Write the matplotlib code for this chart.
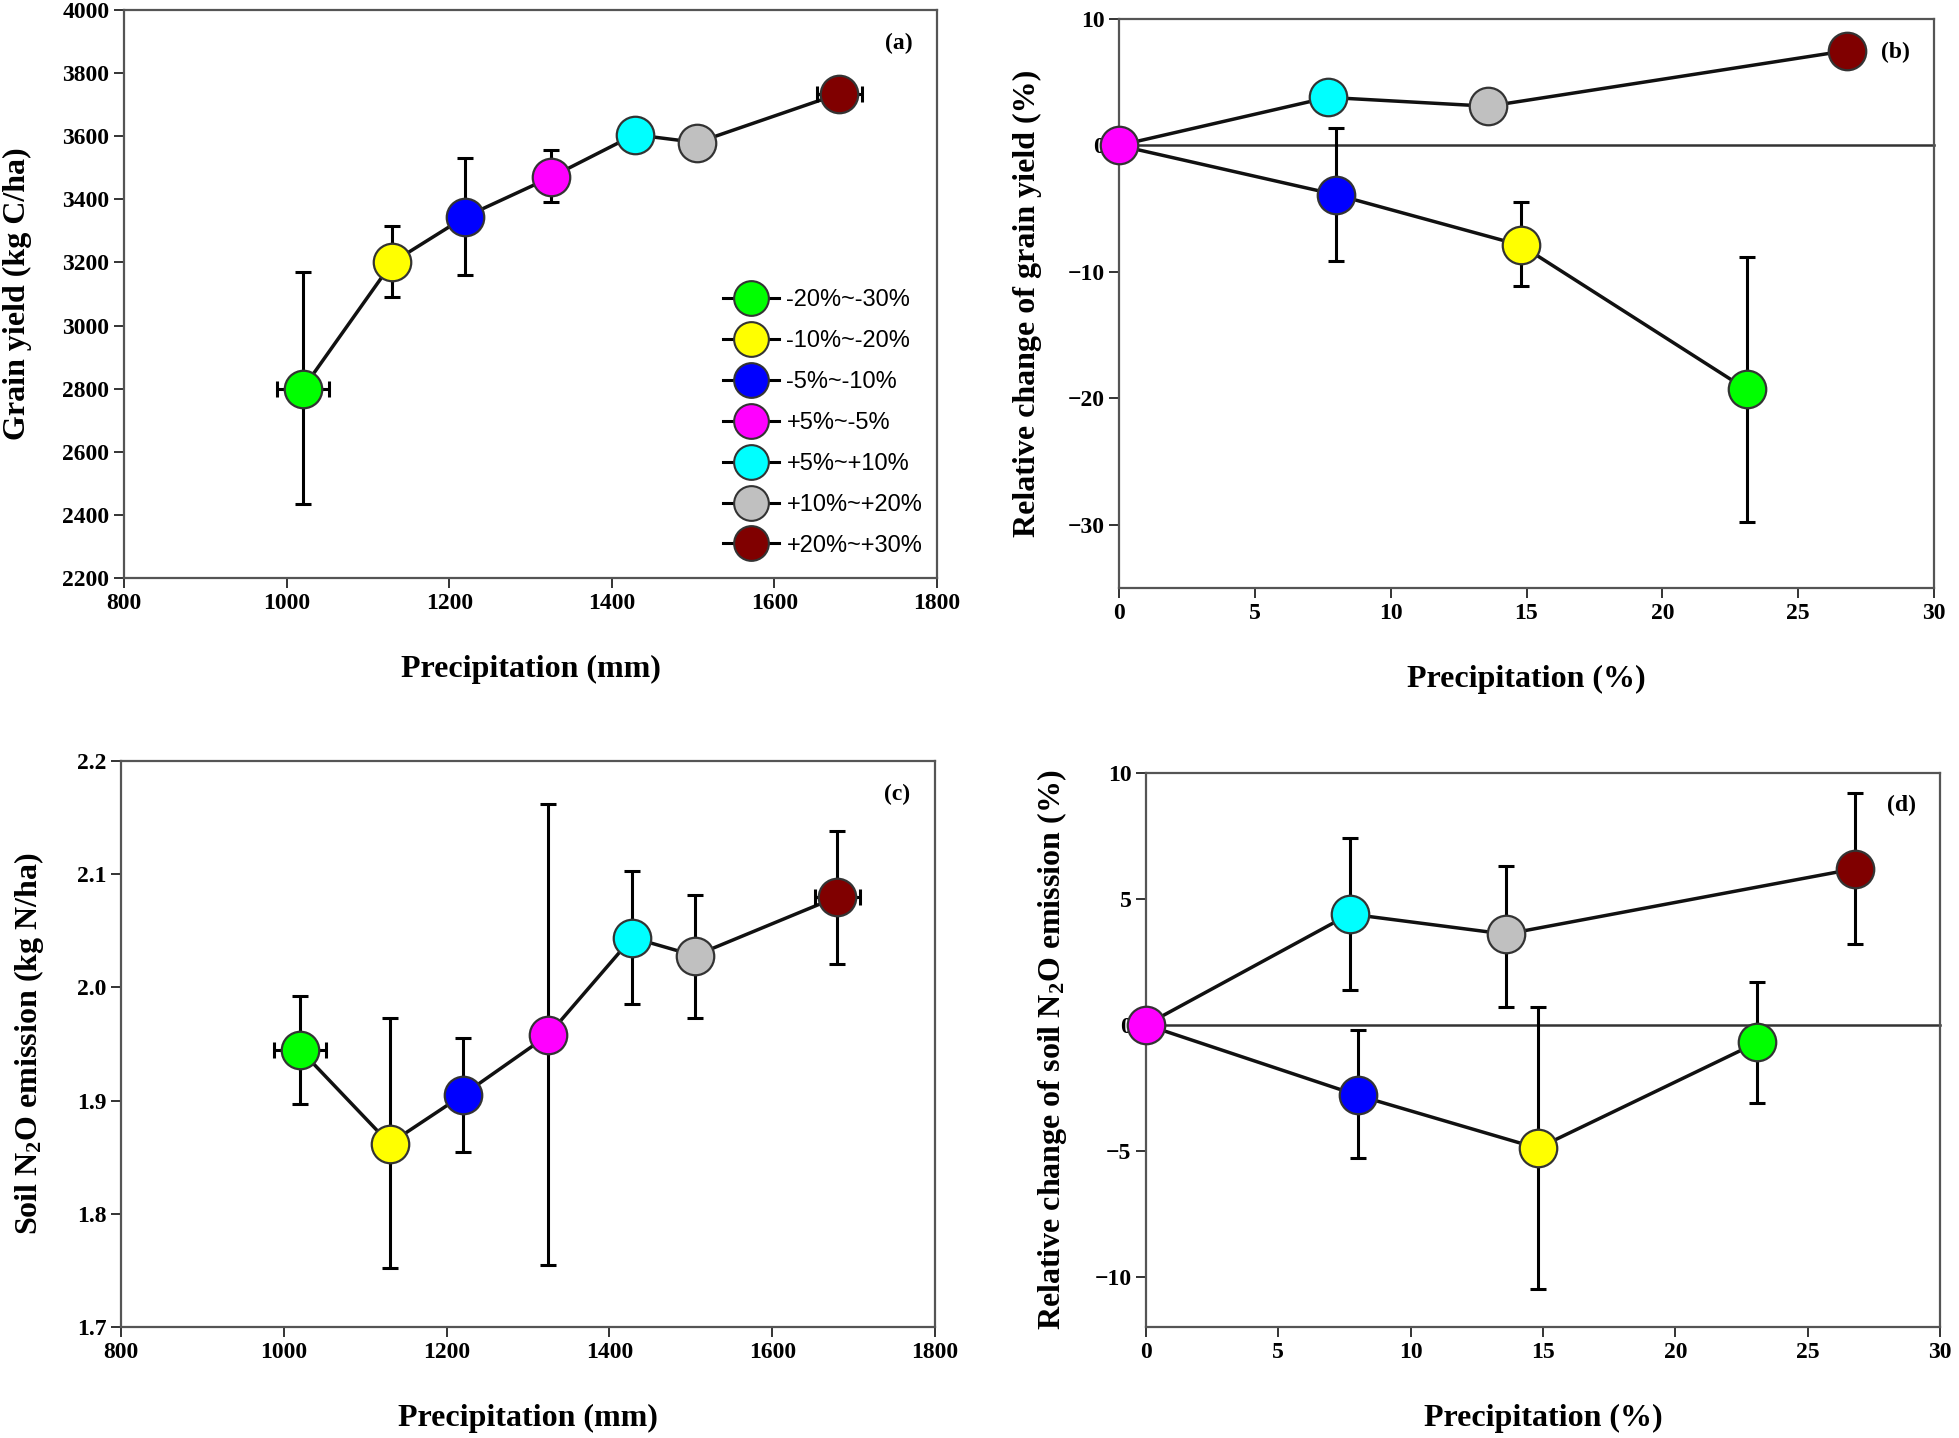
import numpy as np
import matplotlib
matplotlib.use('Agg')
import matplotlib.pyplot as plt
from matplotlib.lines import Line2D

plt.rcParams['font.family'] = 'Liberation Serif'
plt.rcParams['mathtext.default'] = 'regular'

# Groups (precipitation change classes)
groups = ['-20%~-30%', '-10%~-20%', '-5%~-10%', '+5%~-5%', '+5%~+10%', '+10%~+20%', '+20%~+30%']
colors = ['#00ff00', '#ffff00', '#0000ff', '#ff00ff', '#00ffff', '#c0c0c0', '#800000']

# Panel (a): grain yield vs precipitation (mm)
precip_mm = [1020, 1130, 1220, 1325, 1428, 1505, 1680]
precip_xerr = [32, 0, 0, 0, 0, 0, 28]
yield_c = [2800, 3200, 3345, 3470, 3605, 3580, 3735]
yield_lo = [2435, 3090, 3160, 3390, 3605, 3580, 3735]
yield_hi = [3170, 3315, 3530, 3555, 3605, 3580, 3735]

# Panel (b): relative change of grain yield vs precipitation change (%)
precip_pct = [23.1, 14.8, 8.0, 0.0, 7.7, 13.6, 26.8]
yield_rel = [-19.3, -7.9, -3.9, 0.0, 3.8, 3.1, 7.5]
yield_rel_lo = [-29.8, -11.1, -9.1, 0.0, 3.8, 3.1, 7.5]
yield_rel_hi = [-8.8, -4.5, 1.4, 0.0, 3.8, 3.1, 7.5]

# Panel (c): soil N2O emission vs precipitation (mm)
n2o = [1.945, 1.862, 1.905, 1.958, 2.044, 2.028, 2.080]
n2o_lo = [1.897, 1.752, 1.855, 1.755, 1.985, 1.973, 2.021]
n2o_hi = [1.992, 1.973, 1.955, 2.162, 2.103, 2.082, 2.138]

# Panel (d): relative change of soil N2O emission
n2o_rel = [-0.7, -4.9, -2.8, 0.0, 4.4, 3.6, 6.2]
n2o_rel_lo = [-3.1, -10.5, -5.3, 0.0, 1.4, 0.7, 3.2]
n2o_rel_hi = [1.7, 0.7, -0.2, 0.0, 7.4, 6.3, 9.2]

fig = plt.figure(figsize=(19.59, 14.38), dpi=100)
W, H = 1959, 1438


def add_ax(l, t, r, b):
    return fig.add_axes([l / W, 1 - b / H, (r - l) / W, (b - t) / H])


ax_a = add_ax(124, 10, 937, 578)
ax_b = add_ax(1119, 19, 1934, 588)
ax_c = add_ax(121, 761, 935, 1327)
ax_d = add_ax(1146, 773, 1940, 1327)

MS = 27
TICK_FS = 17
LABEL_FS = 23


def style(ax):
    for s in ax.spines.values():
        s.set_color('#555555')
        s.set_linewidth(1.6)
    ax.tick_params(direction='out', length=7, width=1.4, labelsize=TICK_FS,
                   top=False, right=False, color='#333333')
    for lab in ax.get_xticklabels() + ax.get_yticklabels():
        lab.set_fontweight('bold')


def draw_points(ax, x, y, lo, hi, xerr=None):
    y = np.array(y)
    yerr = [y - np.array(lo), np.array(hi) - y]
    for i in range(len(x)):
        xe = None
        if xerr is not None and xerr[i] > 0:
            xe = xerr[i]
        ax.errorbar(x[i], y[i], yerr=[[yerr[0][i]], [yerr[1][i]]], xerr=xe,
                    fmt='none', ecolor='black', elinewidth=2.2, capsize=6,
                    capthick=2.2, zorder=3)
        ax.plot(x[i], y[i], 'o', ms=MS, mfc=colors[i], mec='#333333',
                mew=1.6, zorder=4)


# (a)
order = np.argsort(precip_mm)
ax_a.plot(np.array(precip_mm)[order], np.array(yield_c)[order], color='#111111', lw=2.5, zorder=2)
draw_points(ax_a, precip_mm, yield_c, yield_lo, yield_hi, precip_xerr)
ax_a.set_xlim(800, 1800)
ax_a.set_ylim(2200, 4000)
ax_a.set_xticks(np.arange(800, 1801, 200))
ax_a.set_yticks(np.arange(2200, 4001, 200))
ax_a.set_xlabel('Precipitation (mm)', fontsize=LABEL_FS, fontweight='bold', labelpad=30)
ax_a.set_ylabel('Grain yield (kg C/ha)', fontsize=LABEL_FS, fontweight='bold', labelpad=22)
ax_a.text(0.97, 0.96, '(a)', transform=ax_a.transAxes, ha='right', va='top',
          fontsize=17, fontweight='bold')
style(ax_a)

handles = [Line2D([0], [0], color='black', lw=2.2, marker='o', ms=25, mfc=c,
                  mec='#333333', mew=1.5) for c in colors]
ax_a.legend(handles, groups, loc='lower right', bbox_to_anchor=(1.008, 0.0),
            frameon=False, prop={'family': 'Liberation Sans', 'size': 17},
            handlelength=2.4, labelspacing=0.8, handletextpad=0.3)


# (b) and (d) lines: below and above branches
up_idx = [3, 4, 5, 6]
down_idx = [3, 2, 1, 0]


def rel_panel(ax, y, lo, hi, ylim, yticks, ylabel, tag):
    xs = np.array(precip_pct)
    ys = np.array(y)
    ax.axhline(0, color='#333333', lw=1.8, zorder=1)
    ax.plot(xs[up_idx], ys[up_idx], color='#111111', lw=2.5, zorder=2)
    ax.plot(xs[down_idx], ys[down_idx], color='#111111', lw=2.5, zorder=2)
    draw_points(ax, precip_pct, y, lo, hi)
    ax.set_xlim(0, 30)
    ax.set_ylim(*ylim)
    ax.set_xticks(np.arange(0, 31, 5))
    ax.set_yticks(yticks)
    ax.set_xlabel('Precipitation (%)', fontsize=LABEL_FS, fontweight='bold', labelpad=30)
    ax.set_ylabel(ylabel, fontsize=LABEL_FS, fontweight='bold', labelpad=18)
    ax.text(0.97, 0.96, tag, transform=ax.transAxes, ha='right', va='top',
            fontsize=17, fontweight='bold')
    style(ax)
    for p in ax.lines + ax.collections:
        p.set_clip_on(False)


rel_panel(ax_b, yield_rel, yield_rel_lo, yield_rel_hi, (-35, 10),
          [-30, -20, -10, 0, 10], 'Relative change of grain yield (%)', '(b)')

# (c)
ax_c.plot(np.array(precip_mm)[order], np.array(n2o)[order], color='#111111', lw=2.5, zorder=2)
draw_points(ax_c, precip_mm, n2o, n2o_lo, n2o_hi, precip_xerr)
ax_c.set_xlim(800, 1800)
ax_c.set_ylim(1.7, 2.2)
ax_c.set_xticks(np.arange(800, 1801, 200))
ax_c.set_yticks([1.7, 1.8, 1.9, 2.0, 2.1, 2.2])
ax_c.set_yticklabels(['1.7', '1.8', '1.9', '2.0', '2.1', '2.2'])
ax_c.set_xlabel('Precipitation (mm)', fontsize=LABEL_FS, fontweight='bold', labelpad=30)
ax_c.set_ylabel(r'Soil N$_2$O emission (kg N/ha)', fontsize=LABEL_FS, fontweight='bold', labelpad=22)
ax_c.text(0.97, 0.96, '(c)', transform=ax_c.transAxes, ha='right', va='top',
          fontsize=17, fontweight='bold')
style(ax_c)

rel_panel(ax_d, n2o_rel, n2o_rel_lo, n2o_rel_hi, (-12, 10),
          [-10, -5, 0, 5, 10], r'Relative change of soil N$_2$O emission (%)', '(d)')

fig.savefig('out.png', dpi=100)
